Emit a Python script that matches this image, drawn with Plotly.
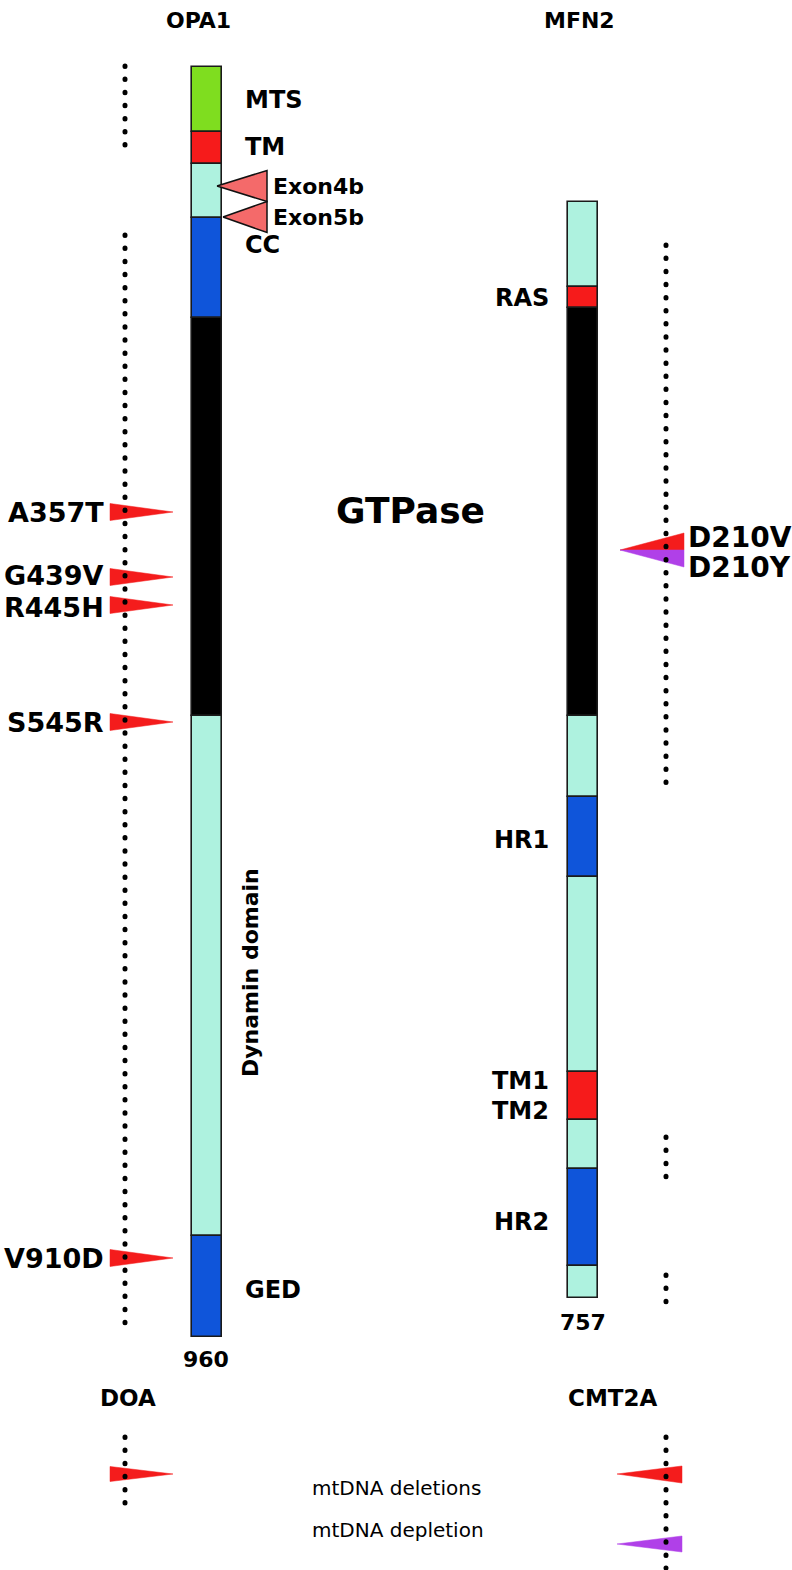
import plotly.graph_objects as go

W, H = 792, 1570

# ---------------- data (diagram track units, top -> bottom) ----------------
opa1_start = [67, 132, 164, 218, 318, 716, 1236]
opa1_end = [132, 164, 218, 318, 716, 1236, 1337]
opa1_kind = ["MTS", "TM", "other", "CC", "GTPase", "other", "GED"]

mfn2_start = [202, 287, 308, 716, 797, 877, 1072, 1120, 1169, 1266]
mfn2_end = [287, 308, 716, 797, 877, 1072, 1120, 1169, 1266, 1298]
mfn2_kind = ["other", "RAS", "GTPase", "other", "HR", "other", "TM", "other", "HR", "other"]

opa1_labels = ["MTS", "TM", "CC", "GED"]
opa1_label_pos = [100, 147, 245, 1290]
mfn2_labels = ["RAS", "HR1", "TM1", "TM2", "HR2"]
mfn2_label_pos = [298, 840, 1081, 1111, 1222]

opa1_length = "960"
mfn2_length = "757"

exon_names = ["Exon4b", "Exon5b"]
exon_pos = [186, 217]

opa1_mut = ["A357T", "G439V", "R445H", "S545R", "V910D"]
opa1_mut_pos = [512, 577, 605, 722, 1258]
opa1_mut_label_pos = [512, 575, 607, 722, 1258]

mfn2_mut = ["D210V", "D210Y"]
mfn2_mut_pos = [550, 550]
mfn2_mut_type = ["deletions", "depletion"]

legend_text = ["mtDNA deletions", "mtDNA depletion"]
legend_pos = [1488, 1530]

# dotted guide columns: (column, start, end)
dot_col = ["OPA1", "OPA1", "MFN2", "MFN2", "MFN2", "OPA1", "MFN2"]
dot_start = [66, 235, 245, 1137, 1275, 1437, 1437]
dot_end = [146, 1331, 789, 1178, 1303, 1505, 1568]

# ---------------- styles ----------------
colors = {"MTS": "#7FDD1F", "TM": "#F61B1B", "RAS": "#F61B1B", "other": "#AEF2DF",
          "CC": "#0F55DA", "HR": "#0F55DA", "GED": "#0F55DA", "GTPase": "#000000"}
RED = "#F41C1C"
PURPLE = "#B040E8"
SALMON = "#F46A6A"
FONT = "DejaVu Sans"

X_OPA1, X_MFN2 = 207, 583
BAR_W = 30
X_DOT_OPA1, X_DOT_MFN2 = 125, 666
dot_x = {"OPA1": X_DOT_OPA1, "MFN2": X_DOT_MFN2}

fig = go.Figure()

# domain bars
for xc, st, en, kd in [(X_OPA1, opa1_start, opa1_end, opa1_kind),
                       (X_MFN2, mfn2_start, mfn2_end, mfn2_kind)]:
    fig.add_trace(go.Bar(x=[xc] * len(st), base=st, y=[e - s for s, e in zip(st, en)],
                         width=[BAR_W] * len(st),
                         marker=dict(color=[colors[k] for k in kd],
                                     line=dict(color="#1a1a1a", width=1.6)),
                         hoverinfo="skip", showlegend=False))


def tri(xs, ys, color, outline=None):
    fig.add_trace(go.Scatter(x=xs + [xs[0]], y=ys + [ys[0]], mode="lines", fill="toself",
                             fillcolor=color,
                             line=dict(color=outline if outline else color,
                                       width=1.5 if outline else 0.5),
                             hoverinfo="skip", showlegend=False))


# exon insertion triangles (point into OPA1 bar)
exon_tip_x = [X_OPA1 + 10, X_OPA1 + 16]
for tx, y in zip(exon_tip_x, exon_pos):
    tri([tx, 267, 267], [y, y - 15.5, y + 15.5], SALMON, outline="#111111")

# OPA1 mutation arrows (pointing right)
for y in opa1_mut_pos:
    tri([110, 173, 110], [y - 8.5, y, y + 8.5], RED)

# MFN2 D210 arrows (pointing left, split halves)
for y, t in zip(mfn2_mut_pos, mfn2_mut_type):
    if t == "deletions":
        tri([620, 684, 684], [y, y - 17, y], RED)
    else:
        tri([620, 684, 684], [y, y, y + 17], PURPLE)

# legend arrows
tri([110, 173, 110], [legend_pos[0] - 21.5, legend_pos[0] - 14, legend_pos[0] - 6.5], RED)
tri([617, 682, 682], [legend_pos[0] - 14, legend_pos[0] - 22, legend_pos[0] - 5], RED)
tri([617, 682, 682], [legend_pos[1] + 14, legend_pos[1] + 6, legend_pos[1] + 22], PURPLE)

# dotted guide columns, drawn over the arrows (round caps applied in post script)
for c, a, b in zip(dot_col, dot_start, dot_end):
    fig.add_trace(go.Scatter(x=[dot_x[c], dot_x[c]], y=[a, b], mode="lines",
                             line=dict(color="black", width=5, dash="1px,12px"),
                             hoverinfo="skip", showlegend=False))

ann = []


def txt(x, y, s, size, anchor="left", bold=True, angle=0):
    ann.append(dict(x=x, y=y, xref="x", yref="y", text=s, showarrow=False,
                    xanchor=anchor, yanchor="middle", textangle=angle,
                    font=dict(family=FONT, size=size, color="black",
                              weight="bold" if bold else "normal")))


txt(X_OPA1 - 9, 20, "OPA1", 22, "center")
txt(X_MFN2 - 4, 20, "MFN2", 22, "center")
for s, y in zip(opa1_labels, opa1_label_pos):
    txt(243, y, s, 24)
for s, y in zip(exon_names, exon_pos):
    txt(271, y, s, 22)
txt(250, 973, "Dynamin domain", 22, "center", angle=-90)
txt(X_OPA1 - 1, 1359, opa1_length, 22, "center")
for s, y in zip(opa1_mut, opa1_mut_label_pos):
    txt(106, y, s, 27, "right")
txt(410, 510, "GTPase", 36, "center")
for s, y in zip(mfn2_labels, mfn2_label_pos):
    txt(551, y, s, 24, "right")
txt(X_MFN2, 1322, mfn2_length, 22, "center")
txt(686, mfn2_mut_pos[0] - 13, mfn2_mut[0], 28)
txt(686, mfn2_mut_pos[1] + 17, mfn2_mut[1], 28)
txt(128, 1398, "DOA", 23, "center")
txt(612, 1398, "CMT2A", 23, "center")
for s, y in zip(legend_text, legend_pos):
    txt(310, y, s, 20, bold=False)

fig.update_layout(
    width=W, height=H, margin=dict(l=0, r=0, t=0, b=0),
    paper_bgcolor="white", plot_bgcolor="white",
    barmode="overlay", bargap=0,
    xaxis=dict(range=[0, W], visible=False, fixedrange=True),
    yaxis=dict(range=[H, 0], visible=False, fixedrange=True),
    annotations=ann, showlegend=False,
)

post = """
document.body.style.margin='0';
document.body.style.overflow='hidden';
document.querySelectorAll('path.js-line').forEach(function(p){
  var d = p.style.strokeDasharray || '';
  if (d.indexOf('12px') >= 0) { p.style.strokeLinecap = 'round'; p.style.strokeDasharray = '0.5px,12.6px'; }
});
"""
fig.write_html("out.html", config={"displayModeBar": False}, post_script=post)
